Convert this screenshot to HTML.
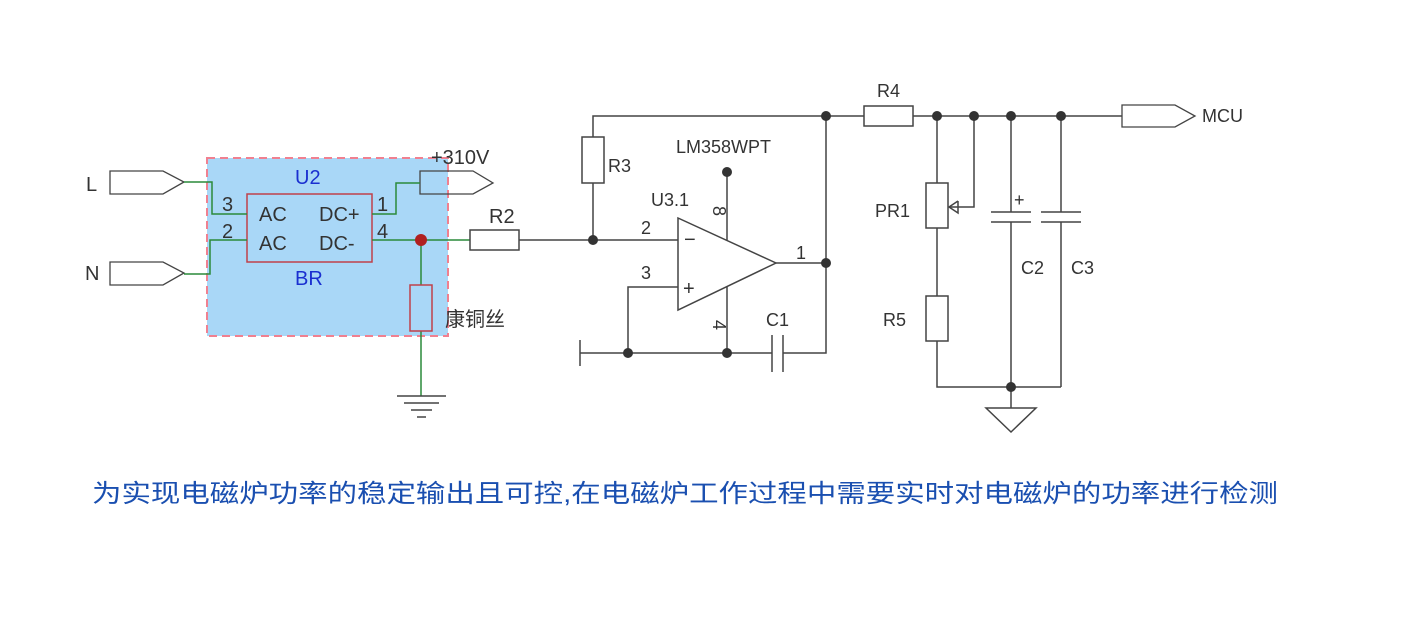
<!DOCTYPE html>
<html><head><meta charset="utf-8"><style>
html,body{margin:0;padding:0;background:#fff;}
svg{display:block;font-family:"Liberation Sans","Noto Sans CJK SC",sans-serif;}
</style></head><body>
<svg width="1420" height="620" viewBox="0 0 1420 620" xmlns="http://www.w3.org/2000/svg">
<rect x="207" y="158" width="241" height="178" fill="#a9d7f7" stroke="#f08090" stroke-width="2" stroke-dasharray="8,5"/>
<g fill="#fff" stroke="#444" stroke-width="1.3">
<polygon points="110,171 163,171 184,182 163,194 110,194"/>
<polygon points="110,262 163,262 184,273 163,285 110,285"/>
<polygon points="1122,105 1175,105 1195,116 1175,127 1122,127"/>
</g>
<polygon points="420,171 473,171 493,183 473,194 420,194" fill="none" stroke="#444" stroke-width="1.3"/>
<rect x="247" y="194" width="125" height="68" fill="none" stroke="#c0404a" stroke-width="1.5"/>
<g fill="none" stroke-width="1.5">
<polyline points="184,182 212,182 212,214 247,214" stroke="#2a8a3a"/>
<polyline points="184,274 210,274 210,240 247,240" stroke="#2a8a3a"/>
<polyline points="372,214 396,214 396,183 420,183" stroke="#2a8a3a"/>
<line x1="372" y1="240" x2="470" y2="240" stroke="#2a8a3a"/>
<line x1="421" y1="240" x2="421" y2="396" stroke="#2a8a3a"/>
<rect x="410" y="285" width="22" height="46" stroke="#c0404a" fill="#a9d7f7"/>
<rect x="470" y="230" width="49" height="20" stroke="#444" fill="#fff"/>
</g>
<circle cx="421" cy="240" r="6" fill="#b02020"/>
<g stroke="#444" stroke-width="1.5" fill="none">
<line x1="397" y1="396" x2="446" y2="396"/><line x1="404" y1="403" x2="439" y2="403"/><line x1="411" y1="410" x2="432" y2="410"/><line x1="417" y1="417" x2="426" y2="417"/>
<line x1="519" y1="240" x2="678" y2="240"/>
<polyline points="593,240 593,116 864,116"/>
<rect x="582" y="137" width="22" height="46" fill="#fff"/>
<polygon points="678,218 678,310 776,263"/>
<polyline points="678,287 628,287 628,353"/>
<line x1="580" y1="353" x2="772" y2="353"/><line x1="580" y1="340" x2="580" y2="366"/>
<line x1="727" y1="172" x2="727" y2="240"/><line x1="727" y1="287" x2="727" y2="353"/>
<line x1="772" y1="335" x2="772" y2="372"/><line x1="783" y1="335" x2="783" y2="372"/>
<polyline points="783,353 826,353 826,116"/>
<line x1="776" y1="263" x2="826" y2="263"/>
<rect x="864" y="106" width="49" height="20" fill="#fff"/>
<line x1="913" y1="116" x2="1122" y2="116"/>
<line x1="937" y1="116" x2="937" y2="183"/><rect x="926" y="183" width="22" height="45" fill="#fff"/>
<line x1="937" y1="228" x2="937" y2="296"/><rect x="926" y="296" width="22" height="45" fill="#fff"/>
<polyline points="937,341 937,387 1061,387"/>
<polyline points="974,116 974,207 949,207"/><polyline points="958,201 949,207 958,213 958,201"/>
<line x1="1011" y1="116" x2="1011" y2="212"/><line x1="1011" y1="222" x2="1011" y2="408"/>
<line x1="991" y1="212" x2="1031" y2="212"/><line x1="991" y1="222" x2="1031" y2="222"/>
<line x1="1061" y1="116" x2="1061" y2="212"/><line x1="1061" y1="222" x2="1061" y2="387"/>
<line x1="1041" y1="212" x2="1081" y2="212"/><line x1="1041" y1="222" x2="1081" y2="222"/>
<polygon points="986,408 1036,408 1011,432"/>
</g>
<g fill="#333">
<circle cx="593" cy="240" r="5"/><circle cx="628" cy="353" r="5"/><circle cx="727" cy="353" r="5"/><circle cx="727" cy="172" r="5"/>
<circle cx="826" cy="116" r="5"/><circle cx="826" cy="263" r="5"/><circle cx="937" cy="116" r="5"/><circle cx="974" cy="116" r="5"/>
<circle cx="1011" cy="116" r="5"/><circle cx="1061" cy="116" r="5"/><circle cx="1011" cy="387" r="5"/>
</g>
<g fill="#333" font-size="20">
<text x="86" y="191">L</text><text x="85" y="280">N</text>
<text x="222" y="211">3</text><text x="222" y="238">2</text>
<text x="259" y="221">AC</text><text x="259" y="250">AC</text>
<text x="319" y="221">DC+</text><text x="319" y="250">DC-</text>
<text x="377" y="211">1</text><text x="377" y="238">4</text>
<text x="431" y="164">+310V</text><text x="489" y="223">R2</text>
<text x="445" y="326">康铜丝</text>
</g>
<g fill="#1a2fd0" font-size="20"><text x="295" y="184">U2</text><text x="295" y="285">BR</text></g>
<g fill="#333" font-size="18">
<text x="608" y="172">R3</text><text x="676" y="153">LM358WPT</text><text x="651" y="206">U3.1</text>
<text x="641" y="234">2</text><text x="641" y="279">3</text><text x="796" y="259">1</text>
<text x="684" y="246" font-size="20">−</text><text x="683" y="295" font-size="20">+</text>
<text x="766" y="326">C1</text><text x="877" y="97">R4</text><text x="875" y="217">PR1</text>
<text x="883" y="326">R5</text><text x="1021" y="274">C2</text><text x="1071" y="274">C3</text>
<text x="1014" y="206">+</text><text x="1202" y="122">MCU</text>
<text transform="translate(713,206) rotate(90)">8</text>
<text transform="translate(713,320) rotate(90)">4</text>
</g>
<text x="92" y="502" fill="#1a4fb0" font-size="25" textLength="1186" lengthAdjust="spacingAndGlyphs">为实现电磁炉功率的稳定输出且可控,在电磁炉工作过程中需要实时对电磁炉的功率进行检测</text>
</svg>
</body></html>
